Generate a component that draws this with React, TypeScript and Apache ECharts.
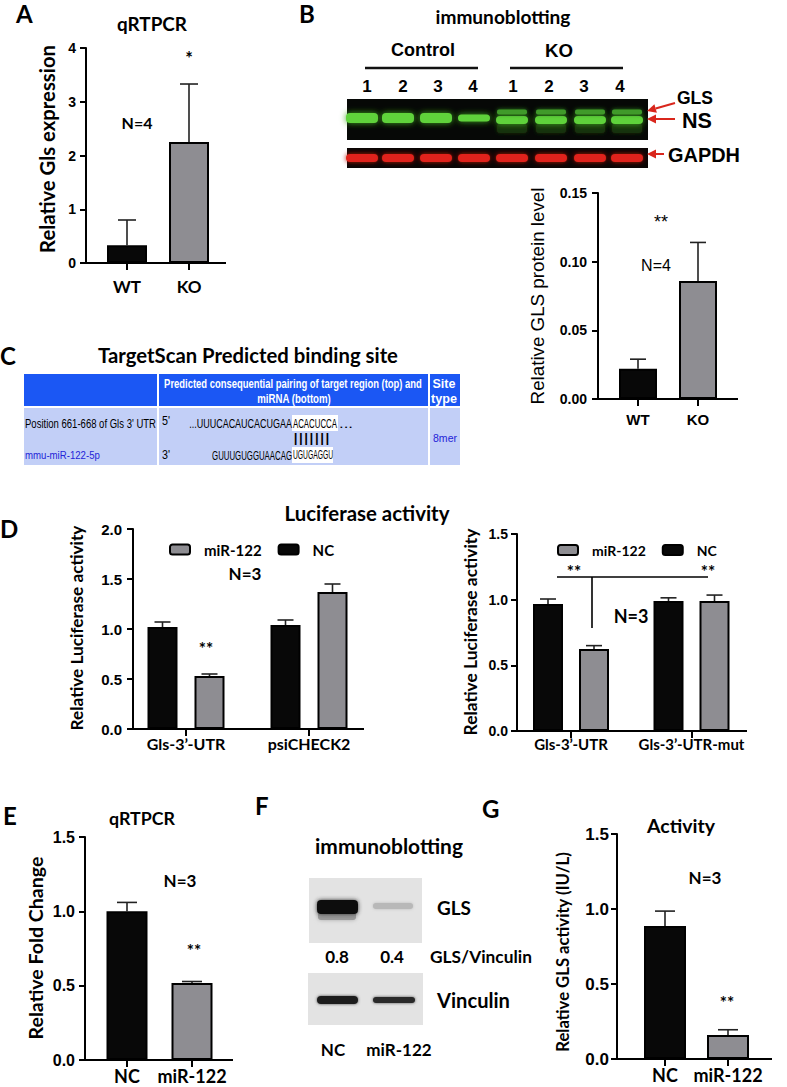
import React, { useEffect, useRef } from "react";
import * as echarts from "echarts";

// ---------- data ----------
const aCats = ["WT", "KO"];
const aMeans = [0.33, 2.25];
const aErrs = [0.47, 1.08];

const bCats = ["WT", "KO"];
const bMeans = [0.022, 0.086];
const bErrs = [0.007, 0.028];

const dlCats = ["Gls-3’-UTR", "psiCHECK2"];
const dlNC = [1.02, 1.04];
const dlNCErr = [0.05, 0.05];
const dlMiR = [0.53, 1.37];
const dlMiRErr = [0.02, 0.08];

const drCats = ["Gls-3’-UTR", "Gls-3’-UTR-mut"];
const drNC = [0.967, 0.99];
const drNCErr = [0.038, 0.024];
const drMiR = [0.624, 0.99];
const drMiRErr = [0.026, 0.045];

const eCats = ["NC", "miR-122"];
const eMeans = [1.0, 0.518];
const eErrs = [0.06, 0.01];

const gCats = ["NC", "miR-122"];
const gMeans = [0.886, 0.16];
const gErrs = [0.1, 0.035];

const blotLanes = ["1", "2", "3", "4", "1", "2", "3", "4"];
const fLanes = ["NC", "miR-122"];
const fRatios = ["0.8", "0.4"];

// ---------- styles ----------
const CAL = 'Lato, "Open Sans", sans-serif';
const ARI = '"Liberation Sans", Arial, sans-serif';
const BLACK = "#080808";
const GRAY = "#8e8d92";

let mctx: CanvasRenderingContext2D | null = null;
function measure(text: string, size: number, font: string, weight: string) {
  if (!mctx) mctx = document.createElement("canvas").getContext("2d");
  mctx!.font = `${weight} ${size}px ${font}`;
  return mctx!.measureText(text).width;
}

function txt(text: string, x: number, y: number, size: number, o: any = {}) {
  return {
    type: "text",
    x,
    y,
    rotation: o.rot || 0,
    scaleX: o.sx || 1,
    z: 50,
    style: {
      text,
      fontSize: size,
      fontFamily: o.font || CAL,
      fontWeight: o.weight || "bold",
      fill: o.fill || "#000",
      align: o.align || "center",
      verticalAlign: o.va || "middle",
    },
  };
}
// text whose font size is chosen so that its width matches the reference
function wTxt(text: string, x: number, y: number, width: number, o: any = {}) {
  const w = measure(text, 20, o.font || CAL, o.weight || "bold");
  return txt(text, x, y, (20 * width) / w, o);
}
// text condensed horizontally to a given width at a given size
function cTxt(text: string, x: number, y: number, size: number, width: number, o: any = {}) {
  const w = measure(text, size, o.font || ARI, o.weight || "normal");
  return txt(text, x, y, size, { font: ARI, weight: "normal", ...o, sx: width / w });
}
function ln(x1: number, y1: number, x2: number, y2: number, w = 2, c = "#000") {
  return { type: "line", z: 40, shape: { x1, y1, x2, y2 }, style: { stroke: c, lineWidth: w } };
}
function rc(x: number, y: number, w: number, h: number, fill: string) {
  return { type: "rect", z: 30, shape: { x, y, width: w, height: h }, style: { fill } };
}
function arrow(x1: number, y1: number, x2: number, y2: number) {
  const dx = x2 - x1, dy = y2 - y1;
  const L = Math.sqrt(dx * dx + dy * dy);
  const ux = dx / L, uy = dy / L;
  const hl = 9, hw = 4.5;
  const bx = x2 - ux * hl, by = y2 - uy * hl;
  return [
    ln(x1, y1, bx, by, 2, "#d9261c"),
    {
      type: "polygon",
      z: 40,
      shape: { points: [[x2, y2], [bx - uy * hw, by + ux * hw], [bx + uy * hw, by - ux * hw]] },
      style: { fill: "#d9261c" },
    },
  ];
}

function errRender(offset: number, cap: number) {
  return (params: any, api: any) => {
    const idx = api.value(0), v = api.value(1), e = api.value(2);
    const p0 = api.coord([idx, v]);
    const p1 = api.coord([idx, v + e]);
    const x = p0[0] + offset;
    return {
      type: "group",
      children: [
        { type: "line", shape: { x1: x, y1: p0[1], x2: x, y2: p1[1] }, style: { stroke: "#222", lineWidth: 1.6 } },
        { type: "line", shape: { x1: x - cap / 2, y1: p1[1], x2: x + cap / 2, y2: p1[1] }, style: { stroke: "#222", lineWidth: 1.6 } },
      ],
    };
  };
}

function yAx(gi: number, max: number, interval: number, offset: number, size: number, digits: number, margin: number) {
  return {
    type: "value",
    gridIndex: gi,
    min: 0,
    max,
    interval,
    offset,
    axisLine: { show: true, lineStyle: { color: "#000", width: 2 } },
    axisTick: { show: true, length: 6, lineStyle: { color: "#000", width: 2 } },
    splitLine: { show: false },
    axisLabel: {
      margin,
      color: "#000",
      fontFamily: ARI,
      fontWeight: "bold",
      fontSize: size,
      formatter: (v: number) => v.toFixed(digits),
    },
  };
}
function xAx(gi: number, cats: string[], size: number, margin: number, font = CAL) {
  return {
    type: "category",
    gridIndex: gi,
    data: cats,
    axisLine: { show: false },
    axisTick: { show: true, alignWithLabel: true, length: 7, lineStyle: { color: "#000", width: 2 } },
    axisLabel: { margin, color: "#000", fontFamily: font, fontWeight: "bold", fontSize: size, interval: 0 },
  };
}

export default function App() {
  const ref = useRef<HTMLDivElement>(null);
  useEffect(() => {
    const chart = echarts.init(ref.current!, undefined, { renderer: "svg" });

    const grids = [
      { left: 96, top: 48, width: 124, height: 215 }, // A
      { left: 608, top: 193, width: 120, height: 206 }, // B
      { left: 124.5, top: 529, width: 246, height: 200 }, // D left
      { left: 510.75, top: 534, width: 241, height: 197 }, // D right
      { left: 94.5, top: 837, width: 130, height: 223 }, // E
      { left: 633.5, top: 834, width: 126, height: 225 }, // G
    ];

    const colored = (vals: number[]) => vals.map((v, i) => ({ value: v, itemStyle: { color: i === 0 ? BLACK : GRAY } }));
    const single = (gi: number, means: number[], errs: number[], bw: number, cap: number) => [
      {
        type: "bar",
        xAxisIndex: gi,
        yAxisIndex: gi,
        barWidth: bw,
        data: colored(means),
        itemStyle: { borderColor: "#000", borderWidth: 2 },
        z: 2,
      },
      {
        type: "custom",
        xAxisIndex: gi,
        yAxisIndex: gi,
        renderItem: errRender(0, cap),
        data: means.map((m, i) => [i, m, errs[i]]),
        encode: { x: 0, y: 1 },
        z: 1,
      },
    ];
    const grouped = (gi: number, nc: number[], ncE: number[], mir: number[], mirE: number[], gap: number) => [
      {
        name: "NC",
        type: "bar",
        xAxisIndex: gi,
        yAxisIndex: gi,
        barWidth: 30,
        barGap: (gap / 30) * 100 + "%",
        data: nc,
        itemStyle: { color: BLACK, borderColor: "#000", borderWidth: 2 },
        z: 2,
      },
      {
        name: "miR-122",
        type: "bar",
        xAxisIndex: gi,
        yAxisIndex: gi,
        barWidth: 30,
        barGap: (gap / 30) * 100 + "%",
        data: mir,
        itemStyle: { color: GRAY, borderColor: "#000", borderWidth: 2 },
        z: 2,
      },
      {
        type: "custom",
        xAxisIndex: gi,
        yAxisIndex: gi,
        renderItem: errRender(-(30 + gap) / 2, 16),
        data: nc.map((m, i) => [i, m, ncE[i]]),
        encode: { x: 0, y: 1 },
        z: 1,
      },
      {
        type: "custom",
        xAxisIndex: gi,
        yAxisIndex: gi,
        renderItem: errRender((30 + gap) / 2, 16),
        data: mir.map((m, i) => [i, m, mirE[i]]),
        encode: { x: 0, y: 1 },
        z: 1,
      },
    ];

    const legend = (left: number, top: number, size: number) => ({
      left,
      top,
      orient: "horizontal",
      itemWidth: 20,
      itemHeight: 10,
      itemGap: 16,
      data: ["miR-122", "NC"],
      textStyle: { fontFamily: CAL, fontWeight: "bold", fontSize: size, color: "#000", padding: [0, 0, 0, 9] },
      selectedMode: false,
    });

    const g: any[] = [];
    const ROT = Math.PI / 2;
    // panel letters
    [["A", 16, 13], ["B", 299, 13], ["C", 0, 355], ["D", 0, 528], ["E", 3, 815], ["F", 255, 805], ["G", 482, 808]].forEach(
      ([t, x, y]: any) => g.push(txt(t, x, y, 24, { align: "left" }))
    );
    // titles
    g.push(wTxt("qRTPCR", 152, 23, 70));
    g.push(wTxt("immunoblotting", 503, 16, 135));
    g.push(wTxt("TargetScan Predicted binding site", 248, 355, 300));
    g.push(wTxt("Luciferase activity", 367, 513, 165));
    g.push(wTxt("qRTPCR", 142, 818, 66));
    g.push(wTxt("immunoblotting", 389, 845, 148));
    g.push(wTxt("Activity", 681, 825, 68));

    // y-axis titles
    g.push(wTxt("Relative Gls expression", 47, 149, 208, { rot: ROT }));
    g.push(wTxt("Relative GLS protein level", 537, 296, 217, { rot: ROT, font: ARI, weight: "normal" }));
    g.push(wTxt("Relative Luciferase activity", 76, 628, 205, { rot: ROT }));
    g.push(wTxt("Relative Luciferase activity", 470, 632, 207, { rot: ROT }));
    g.push(wTxt("Relative Fold Change", 35, 948, 183, { rot: ROT }));
    g.push(wTxt("Relative GLS activity (IU/L)", 563, 952, 200, { rot: ROT }));

    // x-axis lines
    g.push(ln(85, 263, 226, 263));
    g.push(ln(597, 399, 738, 399));
    g.push(ln(132, 729, 364, 729));
    g.push(ln(516, 731, 747, 731));
    g.push(ln(84, 1060, 233, 1060));
    g.push(ln(616, 1059, 772, 1059));

    // annotations
    g.push(txt("*", 189, 58, 18));
    g.push(txt("N=4", 137, 122, 16));
    g.push(txt("**", 661, 222, 18, { font: ARI, weight: "normal" }));
    g.push(txt("N=4", 656, 265, 16, { font: ARI, weight: "normal" }));
    g.push(txt("N=3", 245, 573, 17));
    g.push(txt("**", 206, 648, 17));
    g.push(txt("N=3", 631, 616, 18));
    g.push(txt("**", 574, 571, 17));
    g.push(txt("**", 708, 571, 17));
    g.push(ln(557, 577, 708, 577, 1.6));
    g.push(ln(592, 577, 592, 628, 1.6));
    g.push(txt("N=3", 180, 880, 17));
    g.push(txt("**", 194, 950, 17));
    g.push(txt("N=3", 705, 877, 17));
    g.push(txt("**", 727, 1002, 17));

    // ---- panel B blot ----
    g.push(wTxt("Control", 423, 50, 64, { font: ARI }));
    g.push(wTxt("KO", 559, 50, 28, { font: ARI }));
    g.push(ln(365, 68, 478, 68, 2.5, "#111"));
    g.push(ln(510, 68, 623, 68, 2.5, "#111"));
    const laneLabelX = [367, 403, 438, 473, 513, 549, 584, 620];
    blotLanes.forEach((l, i) => g.push(txt(l, laneLabelX[i], 86, 17, { font: ARI })));
    g.push(rc(347, 99, 301, 41, "#060806"));
    g.push(rc(347, 148, 301, 20, "#0a0504"));
    const bandX = [362, 398, 436, 474, 512, 551, 590, 627];
    bandX.forEach((cx, i) => {
      const ko = i >= 4;
      const h = i === 3 ? 7 : ko ? 8 : 10;
      g.push({
        type: "rect",
        z: 31,
        shape: { x: cx - 16, y: (ko ? 120 : 118) - h / 2, width: 32, height: h, r: 4 },
        style: { fill: "#5fd23a", shadowBlur: 6, shadowColor: "#3da51f" },
      });
      if (ko) {
        g.push({
          type: "rect",
          z: 31,
          shape: { x: cx - 15, y: 109.5, width: 30, height: 5, r: 2 },
          style: { fill: "#3f9a2a", shadowBlur: 4, shadowColor: "#2c7a1a" },
        });
        g.push({
          type: "rect",
          z: 30.5,
          shape: { x: cx - 15, y: 124, width: 30, height: 9, r: 3 },
          style: { fill: "#16300f", shadowBlur: 4, shadowColor: "#16300f" },
        });
      }
      g.push({
        type: "rect",
        z: 31,
        shape: { x: cx - 16, y: 154, width: 32, height: 8, r: 4 },
        style: { fill: "#e0231a", shadowBlur: 5, shadowColor: "#b0160f" },
      });
    });
    arrow(675, 103, 647, 111).forEach((e) => g.push(e));
    arrow(675, 119, 647, 119).forEach((e) => g.push(e));
    arrow(664, 154, 647, 154).forEach((e) => g.push(e));
    g.push(wTxt("GLS", 677, 98, 36, { font: ARI, align: "left" }));
    g.push(wTxt("NS", 682, 120, 30, { font: ARI, align: "left" }));
    g.push(wTxt("GAPDH", 668, 155, 72, { font: ARI, align: "left" }));

    // ---- panel C table ----
    g.push(rc(24, 374, 436, 33, "#1b57f4"));
    g.push(rc(24, 407, 436, 58, "#c2cff7"));
    g.push(ln(158, 374, 158, 465, 2, "#fff"));
    g.push(ln(429, 374, 429, 465, 2, "#fff"));
    g.push(ln(24, 407, 460, 407, 2, "#fff"));
    const W = { fill: "#fff", weight: "bold" };
    g.push(cTxt("Predicted consequential pairing of target region (top) and", 293, 384, 12, 258, W));
    g.push(cTxt("miRNA (bottom)", 294, 399, 12, 74, W));
    g.push(cTxt("Site", 444, 384, 12, 23, W));
    g.push(cTxt("type", 444, 399, 12, 26, W));
    g.push(cTxt("Position 661-668 of Gls 3' UTR", 25, 424, 12.5, 131, { align: "left" }));
    g.push(cTxt("mmu-miR-122-5p", 25, 455, 11.5, 75, { align: "left", fill: "#2424d8" }));
    g.push(cTxt("8mer", 445, 438, 11.5, 24, { fill: "#2424d8" }));
    g.push(cTxt("5'", 162, 421, 13, 8, { align: "left" }));
    g.push(cTxt("3'", 162, 455, 13, 8, { align: "left" }));
    g.push(rc(292, 415, 46, 16, "#fff"));
    g.push(rc(292, 447, 41, 16, "#fff"));
    g.push(cTxt("...UUUCACAUCACUGAA", 292, 423, 13, 103, { align: "right" }));
    g.push(cTxt("ACACUCCA", 293, 423, 13, 44, { align: "left" }));
    g.push(cTxt("...", 339, 423, 13, 14, { align: "left" }));
    g.push(cTxt("|||||||", 311.5, 438, 12, 37));
    g.push(cTxt("GUUUGUGGUAACAG", 292, 455, 13, 80, { align: "right" }));
    g.push(cTxt("UGUGAGGU", 293, 455, 13, 40, { align: "left" }));

    // ---- panel F blots ----
    g.push(rc(309, 878, 113, 65, "#e3e3e3"));
    g.push(rc(308, 973, 115, 52, "#e3e3e3"));
    g.push({ type: "rect", z: 31, shape: { x: 317, y: 900, width: 41, height: 14, r: 4 }, style: { fill: "#111", shadowBlur: 4, shadowColor: "#333" } });
    g.push({ type: "rect", z: 30.5, shape: { x: 318, y: 912, width: 38, height: 8, r: 3 }, style: { fill: "#9a9a9a", shadowBlur: 4, shadowColor: "#aaa" } });
    g.push({ type: "rect", z: 31, shape: { x: 373, y: 903, width: 40, height: 6, r: 3 }, style: { fill: "#b8b8b8", shadowBlur: 3, shadowColor: "#bbb" } });
    g.push({ type: "rect", z: 31, shape: { x: 317, y: 996, width: 41, height: 8, r: 4 }, style: { fill: "#1a1a1a", shadowBlur: 3, shadowColor: "#444" } });
    g.push({ type: "rect", z: 31, shape: { x: 373, y: 997, width: 42, height: 6, r: 3 }, style: { fill: "#2a2a2a", shadowBlur: 3, shadowColor: "#555" } });
    g.push(wTxt("GLS", 437, 907, 34, { align: "left" }));
    g.push(wTxt("Vinculin", 437, 1000, 73, { align: "left" }));
    g.push(wTxt("GLS/Vinculin", 430, 956, 102, { align: "left" }));
    g.push(txt(fRatios[0], 337, 956, 17));
    g.push(txt(fRatios[1], 392, 956, 17));
    g.push(txt(fLanes[0], 333, 1049, 17));
    g.push(txt(fLanes[1], 399, 1049, 17));

    chart.setOption({
      animation: false,
      backgroundColor: "#fff",
      grid: grids,
      legend: [legend(164, 537, 15), legend(552, 538, 14)],
      xAxis: [
        xAx(0, aCats, 17, 15),
        xAx(1, bCats, 15, 13, ARI),
        xAx(2, dlCats, 16, 6),
        xAx(3, drCats, 15, 5),
        xAx(4, eCats, 18, 7),
        xAx(5, gCats, 18, 7),
      ],
      yAxis: [
        yAx(0, 4, 1, 10, 14, 0, 10),
        yAx(1, 0.15, 0.05, 10, 14, 2, 11),
        yAx(2, 2, 0.5, -8.5, 15, 1, 11),
        yAx(3, 1.5, 0.5, -6.25, 14, 1, 9),
        yAx(4, 1.5, 0.5, 9.5, 16, 1, 10),
        yAx(5, 1.5, 0.5, 16.5, 17, 1, 8),
      ],
      series: [
        ...single(0, aMeans, aErrs, 40, 18),
        ...single(1, bMeans, bErrs, 38, 16),
        ...grouped(2, dlNC, dlNCErr, dlMiR, dlMiRErr, 17),
        ...grouped(3, drNC, drNCErr, drMiR, drMiRErr, 16),
        ...single(4, eMeans, eErrs, 41, 20),
        ...single(5, gMeans, gErrs, 42, 20),
      ],
      graphic: g,
    });
    return () => chart.dispose();
  }, []);
  return <div ref={ref} style={{ position: "absolute", left: 0, top: 0, width: 787, height: 1087 }} />;
}
